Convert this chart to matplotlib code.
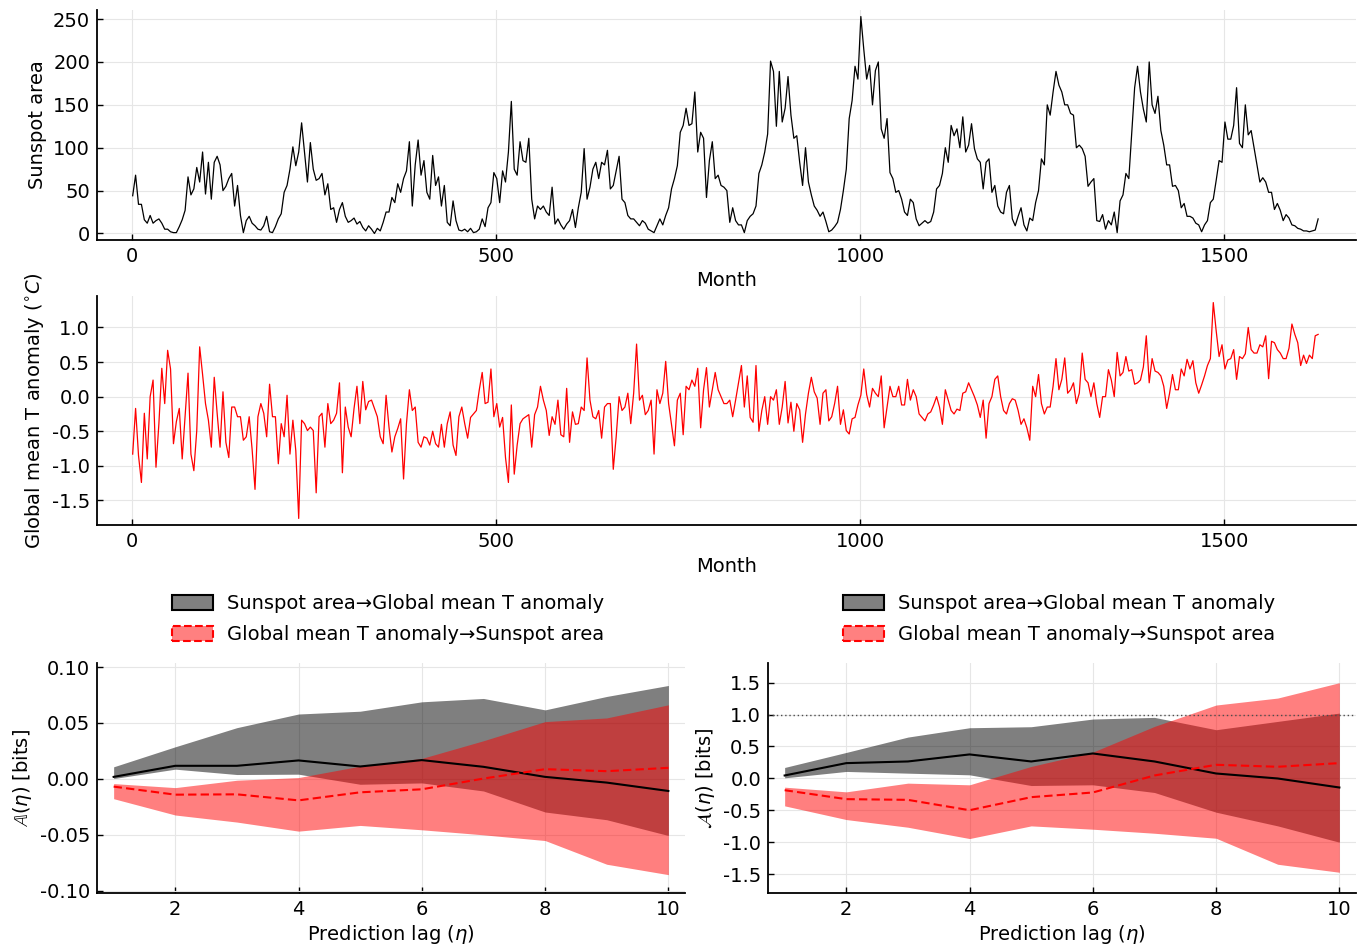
import numpy as np
import matplotlib
matplotlib.use("Agg")
import matplotlib.pyplot as plt
from matplotlib.patches import Patch
from matplotlib.ticker import FormatStrFormatter

plt.rcParams['font.family'] = ['DejaVu Sans']
plt.rcParams['mathtext.fontset'] = 'dejavusans'
plt.rcParams['axes.unicode_minus'] = False

W, H = 1367, 948

# ---- monthly series (one value every MONTH_STEP months) ----
MONTH_STEP = 4

sunspot_area = [
    44, 68, 34, 34, 16, 12, 21, 12, 15, 17,
    12, 5, 5, 2, 1, 1, 8, 16, 27, 66,
    45, 52, 77, 60, 95, 46, 83, 40, 83, 90,
    80, 50, 55, 64, 70, 32, 56, 21, 1, 15,
    20, 12, 9, 5, 4, 9, 20, 2, 1, 8,
    17, 23, 48, 56, 75, 101, 79, 95, 129, 95,
    60, 106, 75, 62, 64, 70, 45, 58, 28, 30,
    13, 28, 36, 20, 13, 15, 18, 11, 14, 7,
    3, 9, 5, 0, 6, 3, 13, 25, 25, 42,
    36, 58, 48, 64, 73, 107, 32, 80,
    109, 68, 85, 48, 40, 91, 56, 66, 32, 56,
    13, 9, 38, 15, 4, 3, 5, 2, 6, 1,
    2, 5, 17, 8, 30, 36, 71, 64, 36, 73,
    60, 95, 154, 75, 68, 107, 85, 83, 111, 40,
    17, 32, 28, 32, 25, 21, 54, 11, 17, 10,
    5, 11, 15, 28, 7, 30, 48, 99, 40, 54,
    75, 83, 64, 83, 80, 97, 52, 56, 73, 90,
    40, 36, 21, 17, 17, 13, 9, 15, 12, 5,
    3, 1, 9, 17, 10, 21, 30, 52, 64, 79,
    118, 126, 146, 126, 128, 165, 95, 118, 111, 42,
    85, 107, 64, 68, 56, 54,
    50, 13, 30, 15, 10, 10, 1, 15, 20, 23,
    32, 70, 80, 95, 116, 201, 189, 125, 189, 130,
    146, 183, 138, 111, 114, 83, 56, 100, 60, 45,
    32, 27, 20, 25, 14, 2, 4, 8, 13, 28,
    50, 75, 134, 155, 195, 180, 253, 215, 180, 196,
    150, 190, 200, 122, 111, 134, 71, 64, 48, 50,
    40, 25, 21, 40, 36, 17, 9, 12, 15, 12,
    14, 25, 52, 56, 70, 100, 83, 126, 114, 122,
    100, 136, 95, 103, 128, 99, 87, 83, 52, 83,
    87, 48, 56, 32, 25, 23, 48, 56, 17, 9,
    20, 30, 10, 3,
    18, 15, 36, 50, 87, 80, 150, 138, 165, 189,
    173, 165, 150, 150, 140, 138, 100, 103, 99, 90,
    55, 60, 64, 15, 14, 22, 5, 15, 10, 25,
    1, 38, 45, 70, 64, 118, 170, 195, 165, 145,
    130, 200, 150, 140, 160, 120, 103, 80, 80, 55,
    56, 50, 30, 35, 20, 20, 18, 12, 10, 2,
    10, 15, 36, 40, 62, 85, 83, 130, 110, 110,
    126, 170, 105, 100, 150, 115, 120, 100, 80, 60,
    65, 60, 48, 48, 28, 35, 27, 15, 22, 18,
    10, 9, 6, 5, 3, 3, 2, 3, 4, 17,
]

global_temp_anomaly = [
    -0.83, -0.17, -0.85, -1.24, -0.24, -0.90, 0.0, 0.24, -1.02, -0.39,
    0.41, -0.10, 0.67, 0.40, -0.68, -0.36, -0.17, -0.90, -0.27, 0.34,
    -0.83, -1.07, -0.49, 0.72, 0.32, -0.10, -0.34, -0.73, 0.28, -0.24,
    -0.73, 0.07, -0.66, -0.88, -0.15, -0.15, -0.29, -0.29, -0.63, -0.58,
    -0.29, -0.76, -1.34, -0.29, -0.10, -0.24, -0.58, 0.18, -0.29, -0.29,
    -0.97, -0.39, -0.58, 0.02, -0.83, -0.34, -0.78, -1.76, -0.34, -0.39,
    -0.49, -0.44, -0.49, -1.39, -0.29, -0.24, -0.73, -0.10, -0.39, -0.34,
    -0.24, 0.20, -1.10, -0.15, -0.44, -0.58, -0.17, 0.15, -0.39, 0.22,
    -0.19, -0.07, -0.05, -0.17, -0.29, -0.58, -0.68, 0.02, -0.44, -0.80,
    -0.58, -0.46, -0.32, -1.19, -0.39, 0.10, -0.20, -0.15,
    -0.66, -0.73, -0.58, -0.60, -0.70, -0.50, -0.68, -0.73, -0.40, -0.73,
    -0.39, -0.22, -0.70, -0.85, -0.29, -0.15, -0.39, -0.60, -0.30, -0.25,
    -0.20, 0.10, 0.35, -0.10, -0.08, 0.40, -0.29, -0.10, -0.44, -0.30,
    -0.88, -1.24, -0.12, -1.12, -0.70, -0.39, -0.32, -0.29, -0.26, -0.73,
    -0.26, -0.15, 0.15, -0.05, -0.20, -0.56, -0.29, -0.40, -0.05, -0.55,
    -0.58, 0.12, -0.66, -0.22, -0.40, -0.39, -0.15, -0.20, 0.56, -0.05,
    -0.29, -0.32, -0.20, -0.60, -0.15, -0.10, -0.10, -1.05, -0.58, 0.0,
    -0.20, -0.15, 0.05, -0.39, 0.05, 0.76, -0.05, 0.02, -0.26, -0.20,
    -0.05, -0.83, 0.10, -0.10, 0.05, 0.51, -0.10, -0.40, -0.71, -0.05,
    0.05, -0.55, 0.15, 0.10, 0.24, 0.15, 0.41, -0.45, 0.10, 0.42,
    -0.15, 0.10, 0.35, 0.10, 0.0, -0.10,
    -0.10, -0.05, -0.29, -0.05, 0.20, 0.45, -0.15, 0.30, -0.30, -0.37,
    0.45, -0.50, -0.20, 0.0, -0.40, 0.0, -0.05, 0.10, -0.40, -0.15,
    0.22, -0.38, -0.08, -0.50, -0.10, -0.19, -0.66, -0.25, 0.05, 0.28,
    0.07, -0.02, -0.40, 0.05, 0.10, -0.35, -0.29, -0.10, 0.15, -0.40,
    -0.19, -0.49, -0.54, -0.32, -0.30, -0.12, 0.02, 0.40, 0.03, -0.15,
    0.12, 0.05, 0.0, 0.30, -0.45, -0.15, 0.15, 0.0, 0.0, 0.15,
    -0.12, -0.12, 0.25, -0.05, 0.10, 0.0, -0.25, -0.30, -0.35, -0.25,
    -0.22, -0.12, 0.0, -0.15, -0.40, 0.10, -0.05, -0.20, -0.25, -0.18,
    -0.20, 0.05, 0.07, 0.20, 0.10, 0.0, -0.12, -0.30, -0.05, -0.60,
    -0.10, 0.0, 0.25, 0.30, 0.0, -0.20, -0.25, -0.10, -0.03, -0.05,
    -0.20, -0.40, -0.32, -0.45,
    -0.63, 0.15, 0.0, 0.32, -0.10, -0.25, -0.15, -0.15, 0.15, 0.55,
    0.10, 0.25, 0.56, 0.05, 0.10, 0.20, -0.10, 0.05, 0.63, 0.25,
    0.20, 0.0, 0.20, -0.10, -0.30, 0.0, 0.0, 0.39, 0.24, 0.0,
    0.64, 0.30, 0.35, 0.58, 0.37, 0.39, 0.18, 0.20, 0.24, 0.43,
    0.88, 0.20, 0.55, 0.37, 0.35, 0.30, 0.15, -0.17, 0.05, 0.32,
    0.10, 0.10, 0.40, 0.30, 0.54, 0.40, 0.52, 0.20, 0.05, 0.17,
    0.30, 0.45, 0.55, 1.36, 0.95, 0.58, 0.75, 0.40, 0.53, 0.55,
    0.68, 0.25, 0.58, 0.55, 0.62, 1.00, 0.68, 0.63, 0.63, 0.75,
    0.72, 0.88, 0.26, 0.80, 0.78, 0.68, 0.63, 0.55, 0.55, 0.70,
    1.05, 0.90, 0.78, 0.45, 0.60, 0.48, 0.60, 0.55, 0.88, 0.90,
]

# ---- asymmetry vs prediction lag ----
lags = [1, 2, 3, 4, 5, 6, 7, 8, 9, 10]

# absolute asymmetry [bits]
abs_s2t_hi = [0.0108, 0.0287, 0.0458, 0.058, 0.0605, 0.0689, 0.0719, 0.0617, 0.0737, 0.0835]
abs_s2t_mid = [0.0018, 0.0117, 0.0117, 0.0165, 0.0111, 0.0168, 0.0108, 0.0018, -0.0033, -0.0108]
abs_s2t_lo = [0.0003, 0.0087, 0.0039, 0.0042, -0.0048, -0.0036, -0.0108, -0.0296, -0.0365, -0.0506]
abs_t2s_hi = [-0.0042, -0.0078, -0.0012, 0.0012, 0.0114, 0.0183, 0.0341, 0.0512, 0.0545, 0.0662]
abs_t2s_mid = [-0.0069, -0.0141, -0.0138, -0.0192, -0.0120, -0.0093, 0.0003, 0.0087, 0.0069, 0.0099]
abs_t2s_lo = [-0.0177, -0.0323, -0.0386, -0.0467, -0.0416, -0.0455, -0.0500, -0.0551, -0.0763, -0.0856]

# normalised asymmetry [bits]
rel_s2t_hi = [0.172, 0.407, 0.647, 0.793, 0.809, 0.929, 0.955, 0.762, 0.892, 1.022]
rel_s2t_mid = [0.047, 0.240, 0.266, 0.376, 0.266, 0.391, 0.266, 0.078, 0.0, -0.141]
rel_s2t_lo = [0.010, 0.110, 0.083, 0.057, -0.110, -0.099, -0.219, -0.527, -0.741, -0.996]
rel_t2s_hi = [-0.136, -0.209, -0.073, -0.099, 0.188, 0.412, 0.814, 1.148, 1.257, 1.497]
rel_t2s_mid = [-0.183, -0.323, -0.334, -0.496, -0.292, -0.219, 0.047, 0.214, 0.183, 0.240]
rel_t2s_lo = [-0.428, -0.642, -0.762, -0.939, -0.741, -0.793, -0.856, -0.934, -1.341, -1.466]

LBL_S2T = 'Sunspot area\u2192Global mean T anomaly'
LBL_T2S = 'Global mean T anomaly\u2192Sunspot area'

FS = 14


def px_axes(fig, left, top, right, bottom):
    return fig.add_axes([left / W, 1 - bottom / H, (right - left) / W, (bottom - top) / H])


def style(ax):
    for s in ('top', 'right'):
        ax.spines[s].set_visible(False)
    for s in ('left', 'bottom'):
        ax.spines[s].set_linewidth(1.3)
    ax.tick_params(direction='in', length=4, width=1.0, labelsize=FS, pad=5)
    ax.grid(True, color='0.9', lw=0.8)
    ax.set_axisbelow(True)


fig = plt.figure(figsize=(W / 100, H / 100), dpi=100)

# sunspot area
ax1 = px_axes(fig, 97, 10, 1356, 240)
m1 = 1 + MONTH_STEP * np.arange(len(sunspot_area))
ax1.plot(m1, sunspot_area, color='black', lw=0.9)
ax1.set_xlim(-48, 1681)
ax1.set_ylim(-7.6, 260.6)
ax1.set_xticks([0, 500, 1000, 1500])
ax1.set_yticks([0, 50, 100, 150, 200, 250])
ax1.set_xlabel('Month', fontsize=FS, labelpad=4)
ax1.set_ylabel('Sunspot area', fontsize=FS, labelpad=4)
style(ax1)

# temperature anomaly
ax2 = px_axes(fig, 97, 296, 1356, 525)
m2 = 1 + MONTH_STEP * np.arange(len(global_temp_anomaly))
ax2.plot(m2, global_temp_anomaly, color='red', lw=0.9)
ax2.set_xlim(-48, 1681)
ax2.set_ylim(-1.855, 1.455)
ax2.set_xticks([0, 500, 1000, 1500])
ax2.set_yticks([-1.5, -1.0, -0.5, 0.0, 0.5, 1.0])
ax2.yaxis.set_major_formatter(FormatStrFormatter('%.1f'))
ax2.set_xlabel('Month', fontsize=FS, labelpad=4)
ax2.set_ylabel(r'Global mean T anomaly ($^{\circ}C$)', fontsize=FS, labelpad=4)
style(ax2)


def asym_panel(ax, lo1, mid1, hi1, lo2, mid2, hi2):
    ax.fill_between(lags, lo1, hi1, color='black', alpha=0.5, lw=0)
    ax.plot(lags, mid1, color='black', lw=1.5)
    ax.fill_between(lags, lo2, hi2, color='red', alpha=0.5, lw=0)
    ax.plot(lags, mid2, color='red', lw=1.5, ls=(0, (4, 2)))
    ax.set_xlim(0.73, 10.27)
    ax.set_xticks([2, 4, 6, 8, 10])
    ax.set_xlabel(r'Prediction lag ($\eta$)', fontsize=FS, labelpad=3)
    style(ax)


ax3 = px_axes(fig, 97, 663, 685, 893)
asym_panel(ax3, abs_s2t_lo, abs_s2t_mid, abs_s2t_hi, abs_t2s_lo, abs_t2s_mid, abs_t2s_hi)
ax3.set_ylim(-0.102, 0.1036)
ax3.set_yticks([-0.10, -0.05, 0.0, 0.05, 0.10])
ax3.yaxis.set_major_formatter(FormatStrFormatter('%.2f'))
ax3.set_ylabel(r'$\mathbb{A}(\eta)$ [bits]', fontsize=FS, labelpad=4)

ax4 = px_axes(fig, 768, 663, 1356, 893)
asym_panel(ax4, rel_s2t_lo, rel_s2t_mid, rel_s2t_hi, rel_t2s_lo, rel_t2s_mid, rel_t2s_hi)
ax4.axhline(1.0, color='0.3', ls=(0, (1, 2)), lw=1.0)
ax4.set_ylim(-1.79, 1.805)
ax4.set_yticks([-1.5, -1.0, -0.5, 0.0, 0.5, 1.0, 1.5])
ax4.yaxis.set_major_formatter(FormatStrFormatter('%.1f'))
ax4.set_ylabel(r'$\mathcal{A}(\eta)$ [bits]', fontsize=FS, labelpad=4)


def legend_handles():
    return [
        Patch(facecolor='#808080', edgecolor='black', lw=1.5, label=LBL_S2T),
        Patch(facecolor='#ff8080', edgecolor='red', lw=1.5, ls='--', label=LBL_T2S),
    ]


for x0 in (172, 843):
    fig.legend(handles=legend_handles(), loc='upper left',
               bbox_to_anchor=(x0 / W, 1 - 594 / H), frameon=False, fontsize=FS,
               handlelength=2.1, handleheight=0.8, handletextpad=0.75,
               labelspacing=0.62, borderpad=0, borderaxespad=0)

fig.savefig('out.png', dpi=100)
